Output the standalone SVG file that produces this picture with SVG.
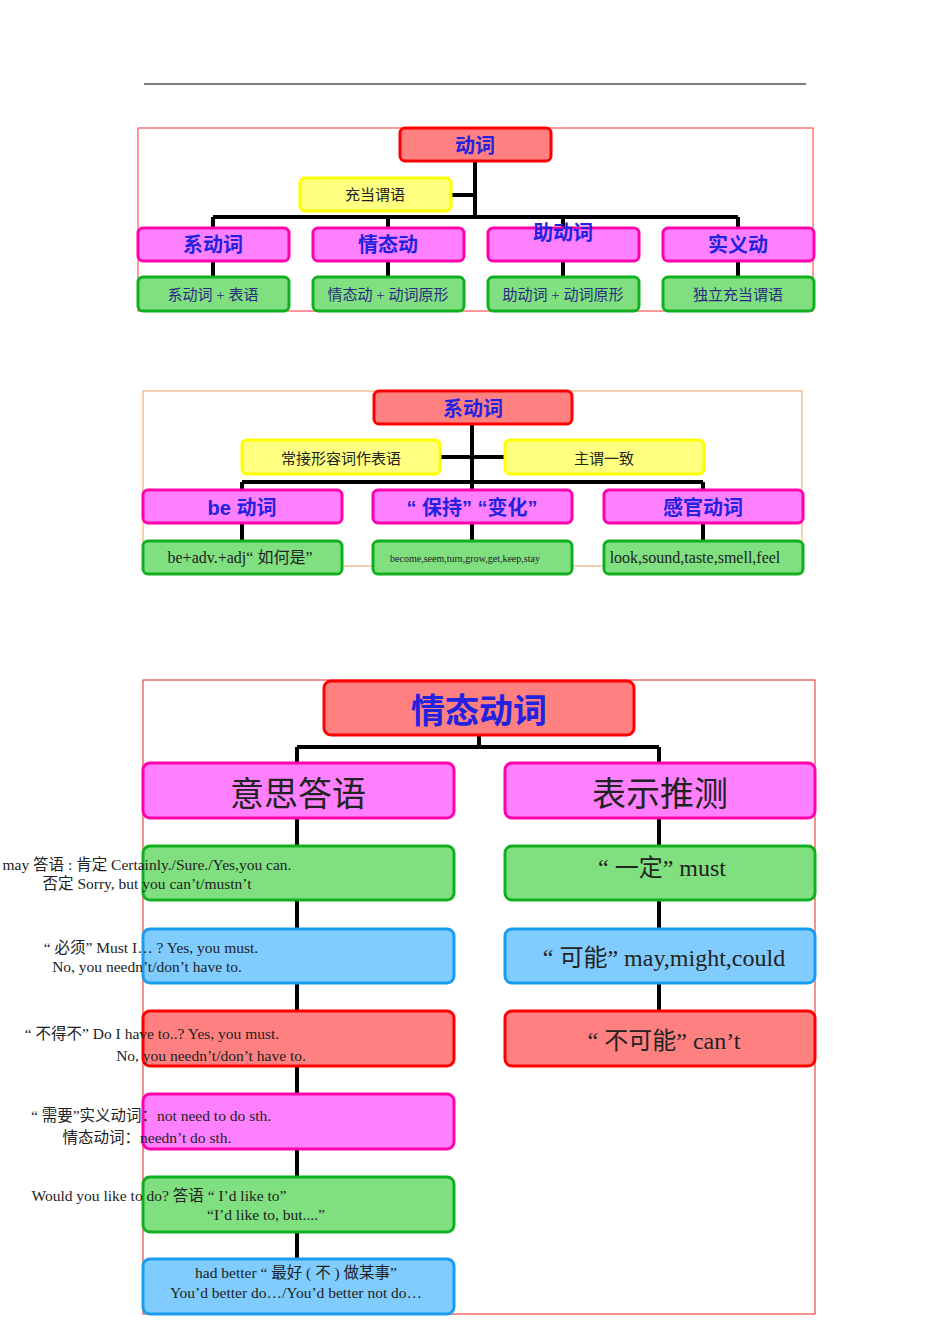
<svg xmlns="http://www.w3.org/2000/svg" width="950" height="1344" viewBox="0 0 950 1344">
<style>
.r{fill:#ff8080;stroke:#f00;stroke-width:3}
.m{fill:#ff80ff;stroke:#f0a;stroke-width:3}
.g{fill:#80e080;stroke:#10b020;stroke-width:3}
.y{fill:#ffff80;stroke:#ff0;stroke-width:3}
.b{fill:#80ccff;stroke:#1a9cf0;stroke-width:3}
.h{font-family:"Liberation Sans","Noto Sans CJK SC",sans-serif;font-weight:bold;fill:#2222e0;text-anchor:middle}
.t{font-family:"Liberation Serif","Noto Sans CJK SC",serif;fill:#222;text-anchor:middle}
.tb{font-family:"Liberation Serif","Noto Sans CJK SC",serif;fill:#2a2a80;text-anchor:middle}
.c{stroke:#000;stroke-width:4;fill:none}
.f{fill:none;stroke-width:1}
</style>
<rect width="950" height="1344" fill="#fff"/>
<line x1="144" y1="84" x2="806" y2="84" stroke="#000" stroke-width="1"/>
<rect class="f" x="138" y="128" width="675" height="183" stroke="#f33"/>
<rect class="f" x="143" y="391" width="659" height="175" stroke="#f0a060"/>
<rect class="f" x="143" y="680" width="672" height="634" stroke="#e22"/>
<g id="connectors">
<path class="c" d="M475 161V217M451 195H475M213 217H738M213 217V228M388 217V228M563 217V228M738 217V228M213 261V277M388 261V277M563 261V277M738 261V277"/>
<path class="c" d="M472 424V482M440 457H505M242 482H703M242 482V490M472 482V490M703 482V490M242 523V541M472 523V541M703 523V541"/>
<path class="c" d="M479 735V747M297 747H659M297 747V763M659 747V763M297 818V846M297 900V929M297 983V1011M297 1066V1094M297 1149V1177M297 1232V1259M659 818V846M659 900V929M659 983V1011"/>
</g>
<g id="n1"><rect class="r" x="400" y="128" width="151" height="33" rx="5"/><text class="h" x="475" y="153" font-size="20">动词</text></g>
<g id="n2"><rect class="y" x="300" y="178" width="151" height="33" rx="5"/><text class="t" x="375" y="200" font-size="15">充当谓语</text></g>
<g id="n3"><rect class="m" x="138" y="228" width="151" height="33" rx="5"/><text class="h" x="213" y="252" font-size="20">系动词</text></g>
<g id="n4"><rect class="m" x="313" y="228" width="151" height="33" rx="5"/><text class="h" x="388" y="252" font-size="20">情态动</text></g>
<g id="n5"><rect class="m" x="488" y="228" width="151" height="33" rx="5"/><text class="h" x="563" y="240" font-size="20">助动词</text></g>
<g id="n6"><rect class="m" x="663" y="228" width="151" height="33" rx="5"/><text class="h" x="738" y="252" font-size="20">实义动</text></g>
<g id="n7"><rect class="g" x="138" y="277" width="151" height="34" rx="5"/><text class="tb" x="213" y="300" font-size="15">系动词 + 表语</text></g>
<g id="n8"><rect class="g" x="313" y="277" width="151" height="34" rx="5"/><text class="tb" x="388" y="300" font-size="15">情态动 + 动词原形</text></g>
<g id="n9"><rect class="g" x="488" y="277" width="151" height="34" rx="5"/><text class="tb" x="563" y="300" font-size="15">助动词 + 动词原形</text></g>
<g id="n10"><rect class="g" x="663" y="277" width="151" height="34" rx="5"/><text class="tb" x="738" y="300" font-size="15">独立充当谓语</text></g>

<g id="n11"><rect class="r" x="374" y="391" width="198" height="33" rx="5"/><text class="h" x="473" y="416" font-size="20">系动词</text></g>
<g id="n12"><rect class="y" x="242" y="440" width="198" height="34" rx="5"/><text class="t" x="341" y="464" font-size="15">常接形容词作表语</text></g>
<g id="n13"><rect class="y" x="505" y="440" width="199" height="34" rx="5"/><text class="t" x="604" y="464" font-size="15">主谓一致</text></g>
<g id="n14"><rect class="m" x="143" y="490" width="199" height="33" rx="5"/><text class="h" x="242" y="515" font-size="20">be 动词</text></g>
<g id="n15"><rect class="m" x="373" y="490" width="199" height="33" rx="5"/><text class="h" x="472" y="515" font-size="20">“ 保持” “变化”</text></g>
<g id="n16"><rect class="m" x="604" y="490" width="199" height="33" rx="5"/><text class="h" x="703" y="515" font-size="20">感官动词</text></g>
<g id="n17"><rect class="g" x="143" y="541" width="199" height="33" rx="5"/><text class="t" x="240" y="563" font-size="16">be+adv.+adj“ 如何是”</text></g>
<g id="n18"><rect class="g" x="373" y="541" width="199" height="33" rx="5"/><text class="t" x="465" y="562" font-size="10">become,seem,turn,grow,get,keep,stay</text></g>
<g id="n19"><rect class="g" x="604" y="541" width="199" height="33" rx="5"/><text class="t" x="695" y="563" font-size="16">look,sound,taste,smell,feel</text></g>

<g id="n20"><rect class="r" x="324" y="681" width="310" height="54" rx="7"/><text class="h" x="479" y="723" font-size="34" font-weight="normal">情态动词</text></g>
<g id="n21"><rect class="m" x="143" y="763" width="311" height="55" rx="7"/><text class="t" x="298" y="806" font-size="34">意思答语</text></g>
<g id="n22"><rect class="m" x="505" y="763" width="310" height="55" rx="7"/><text class="t" x="660" y="806" font-size="34">表示推测</text></g>
<g id="n23"><rect class="g" x="143" y="846" width="311" height="54" rx="7"/><text class="t" font-size="15.5" text-anchor="start"><tspan x="147" y="870">may 答语 : 肯定 Certainly./Sure./Yes,you can.</tspan><tspan x="147" y="889">否定 Sorry, but you can’t/mustn’t</tspan></text></g>
<g id="n24"><rect class="b" x="143" y="929" width="311" height="54" rx="7"/><text class="t" font-size="15.5" text-anchor="start"><tspan x="151" y="953">“ 必须”     Must I… ?   Yes, you must.</tspan><tspan x="147" y="972">No, you needn’t/don’t have to.</tspan></text></g>
<g id="n25"><rect class="r" x="143" y="1011" width="311" height="55" rx="7"/><text class="t" font-size="15.5" text-anchor="start"><tspan x="152" y="1039">“ 不得不”     Do I have to..?  Yes, you must.</tspan><tspan x="211" y="1061">No, you needn’t/don’t have to.</tspan></text></g>
<g id="n26"><rect class="m" x="143" y="1094" width="311" height="55" rx="7"/><text class="t" font-size="15.5" text-anchor="start"><tspan x="151" y="1121">“ 需要”实义动词：not need to do sth.</tspan><tspan x="147" y="1143">情态动词：needn’t do sth.</tspan></text></g>
<g id="n27"><rect class="g" x="143" y="1177" width="311" height="55" rx="7"/><text class="t" font-size="15.5" text-anchor="start"><tspan x="159" y="1201">Would you like to do? 答语 “ I’d like to”</tspan><tspan x="266" y="1220">“I’d like to, but....”</tspan></text></g>
<g id="n28"><rect class="b" x="143" y="1259" width="311" height="55" rx="7"/><text class="t" font-size="15.5"><tspan x="296" y="1278">had better “ 最好 ( 不 ) 做某事”</tspan><tspan x="296" y="1298">You’d better do…/You’d better not do…</tspan></text></g>
<g id="n29"><rect class="g" x="505" y="846" width="310" height="54" rx="7"/><text class="t" x="662" y="876" font-size="24">“ 一定”  must</text></g>
<g id="n30"><rect class="b" x="505" y="929" width="310" height="54" rx="7"/><text class="t" x="664" y="966" font-size="24">“ 可能”  may,might,could</text></g>
<g id="n31"><rect class="r" x="505" y="1011" width="310" height="55" rx="7"/><text class="t" x="664" y="1049" font-size="24">“ 不可能”  can’t</text></g>
</svg>
